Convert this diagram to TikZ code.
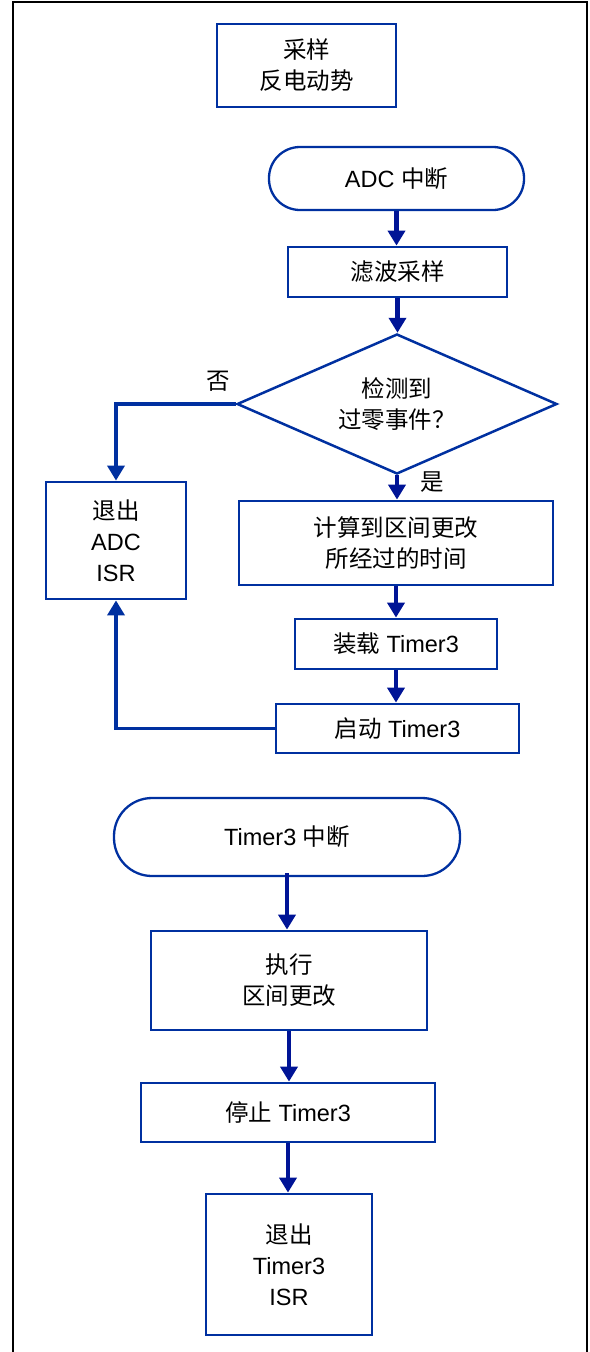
\documentclass[tikz,border=0pt]{standalone}
\usepackage{fontspec}
\setmainfont{Liberation Sans}
\newfontfamily\cjk{Noto Sans CJK SC}
\usetikzlibrary{arrows.meta,shapes.geometric}
\newcommand{\zh}[1]{{\cjk #1}}
\definecolor{boxblue}{RGB}{0,48,160}
\definecolor{arrblue}{RGB}{0,20,150}
\tikzset{
  proc/.style={draw=boxblue,line width=2.8pt,inner sep=0pt,align=center,
    font=\fontsize{23.5}{31}\selectfont,text=black},
  term/.style={proc,line width=2.3pt},
  flow/.style={draw=arrblue,line width=4.8pt,-{Triangle[length=15pt,width=17pt]}},
  branch/.style={draw=boxblue,line width=3.5pt,-{Triangle[length=15pt,width=17pt]}},
  lbl/.style={font=\fontsize{23.5}{31}\selectfont,inner sep=0pt},
  frame/.style={draw=black,line width=2.5pt}
}
\begin{document}
\begin{tikzpicture}[x=1pt,y=-1pt]
\useasboundingbox (0,0) rectangle (589,1352);
\draw[frame] (13,1360) -- (13,2) -- (587,2) -- (587,1360);

\node[proc,minimum width=179pt,minimum height=83pt] (samp) at (306.5,65.5) {\zh{采样}\\\zh{反电动势}};
\node[term,minimum width=255pt,minimum height=63pt,rounded corners=31pt] (adc) at (396.5,178.5) {ADC \zh{中断}};
\node[proc,minimum width=219pt,minimum height=50pt] (filt) at (397.5,272) {\zh{滤波采样}};
\node[diamond,draw=boxblue,line width=2.5pt,minimum width=320pt,minimum height=140pt,inner sep=0pt] (dia) at (397,404) {};
\node[lbl,align=center] (diatext) at (dia.center) {\zh{检测到}\\\zh{过零事件？}};
\node[proc,minimum width=140pt,minimum height=117pt] (exadc) at (116,540.5) {\zh{退出}\\ADC\\ISR};
\node[proc,minimum width=314pt,minimum height=84pt] (calc) at (396,543) {\zh{计算到区间更改}\\\zh{所经过的时间}};
\node[proc,minimum width=202pt,minimum height=50pt] (load) at (396,644) {\zh{装载} Timer3};
\node[proc,minimum width=243pt,minimum height=49pt] (start) at (397.5,728.5) {\zh{启动} Timer3};

\node[lbl] (no) at (218,381) {\zh{否}};
\node[lbl] (yes) at (432,482) {\zh{是}};

\draw[flow] (adc.south) -- (adc.south |- filt.north);
\draw[flow] (filt.south) -- (filt.south |- dia.north);
\draw[flow] (dia.south) -- (dia.south |- calc.north);
\draw[flow] (calc.south) -- (calc.south |- load.north);
\draw[flow] (load.south) -- (load.south |- start.north);
\draw[branch] (dia.west) -| (exadc.north);
\draw[branch] (start.west) -| (exadc.south);

\node[term,minimum width=346pt,minimum height=78pt,rounded corners=38pt] (tint) at (287,837) {Timer3 \zh{中断}};
\node[proc,minimum width=276pt,minimum height=99pt] (exec) at (289,980.5) {\zh{执行}\\\zh{区间更改}};
\node[proc,minimum width=294pt,minimum height=59pt] (stop) at (288,1112.5) {\zh{停止} Timer3};
\node[proc,minimum width=166pt,minimum height=141pt] (extim) at (289,1264.5) {\zh{退出}\\Timer3\\ISR};

\draw[flow] ([yshift=4pt]tint.south) -- (tint.south |- exec.north);
\draw[flow] (exec.south) -- (exec.south |- stop.north);
\draw[flow] (stop.south) -- (stop.south |- extim.north);
\end{tikzpicture}
\end{document}
